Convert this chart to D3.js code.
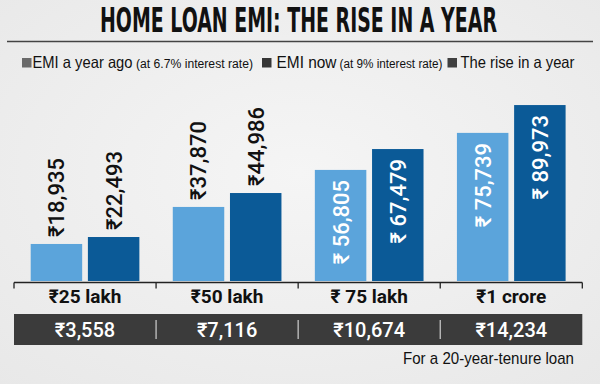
<!DOCTYPE html>
<html>
<head>
<meta charset="utf-8">
<script src="https://cdn.jsdelivr.net/npm/d3@7"></script>
<style>
html,body{margin:0;padding:0;background:#eeeeee;}
svg{display:block;}
</style>
</head>
<body>
<svg id="chart" width="600" height="384"></svg>
<script>
const categories = ["₹25 lakh", "₹50 lakh", "₹ 75 lakh", "₹1 crore"];
const emiYearAgo = [18935, 37870, 56805, 75739];
const emiNow = [22493, 44986, 67479, 89973];
const riseInYear = [3558, 7116, 10674, 14234];
const seriesKeys = ["ago", "now"];
const legendLabels = ["EMI a year ago", "EMI now", "The rise in a year"];
const legendNotes = ["(at 6.7% interest rate)", "(at 9% interest rate)", ""];
const titleText = "HOME LOAN EMI: THE RISE IN A YEAR";
const footnote = "For a 20-year-tenure loan";

const colors = {ago: "#5ba4db", now: "#0b5a97"};
const legendColors = ["#6a6a6a", "#363636", "#404040"];

const svg = d3.select("#chart");
const W = 600, H = 384;

// background
const defs = svg.append("defs");
const rg = defs.append("radialGradient").attr("id", "bg").attr("cx", "50%").attr("cy", "45%").attr("r", "75%");
rg.append("stop").attr("offset", "0%").attr("stop-color", "#f5f5f5");
rg.append("stop").attr("offset", "100%").attr("stop-color", "#e8e8e8");
svg.append("rect").attr("width", W).attr("height", H).attr("fill", "url(#bg)");

// title (horizontally condensed via smaller size + vertical stretch)
svg.append("text").attr("transform", "translate(298.5,32) scale(1,1.36)")
  .attr("text-anchor", "middle")
  .attr("textLength", 397).attr("lengthAdjust", "spacingAndGlyphs")
  .style("font-family", "'Liberation Sans Narrow', 'DejaVu Sans Condensed', sans-serif")
  .style("font-weight", "bold").style("font-size", "24.5px").attr("fill", "#111")
  .text(titleText);
svg.append("line").attr("x1", 7).attr("x2", 593).attr("y1", 41.5).attr("y2", 41.5)
  .attr("stroke", "#444").attr("stroke-width", 1.5);

// legend
const legendPos = [
  {sq: 22, t: 32.5, tw: 100, nx: 136, nw: 117},
  {sq: 262, t: 276.5, tw: 60, nx: 339.5, nw: 103},
  {sq: 447.5, t: 460.5, tw: 114, nx: 0, nw: 0}
];
legendLabels.forEach((lab, i) => {
  const p = legendPos[i];
  svg.append("rect").attr("x", p.sq).attr("y", 58).attr("width", 9.5).attr("height", 9.5).attr("fill", legendColors[i]);
  svg.append("text").attr("x", p.t).attr("y", 67.5)
    .attr("textLength", p.tw).attr("lengthAdjust", "spacingAndGlyphs")
    .style("font-family", "'Liberation Sans Narrow', sans-serif").style("font-size", "16.5px")
    .attr("fill", "#111").text(lab);
  if (legendNotes[i]) {
    svg.append("text").attr("x", p.nx).attr("y", 67.5)
      .attr("textLength", p.nw).attr("lengthAdjust", "spacingAndGlyphs")
      .style("font-family", "'Liberation Sans Narrow', sans-serif").style("font-size", "12px")
      .attr("fill", "#111").text(legendNotes[i]);
  }
});

// scales
const x = d3.scaleBand().domain(categories).range([14, 582.3]).paddingInner(0).paddingOuter(0);
const xs = d3.scaleBand().domain(seriesKeys).range([0, x.bandwidth()]).paddingInner(0.1).paddingOuter(0.292);
const y = d3.scaleLinear().domain([0, 90000]).range([281, 105]);

const data = categories.map((c, i) => ({cat: c, ago: emiYearAgo[i], now: emiNow[i], rise: riseInYear[i]}));
const fmt = d3.format(",");

const groups = svg.append("g").selectAll("g").data(data).join("g")
  .attr("transform", d => `translate(${x(d.cat)},0)`);

groups.selectAll("rect").data(d => seriesKeys.map(k => ({key: k, value: d[k]}))).join("rect")
  .attr("x", d => xs(d.key)).attr("width", xs.bandwidth())
  .attr("y", d => y(d.value)).attr("height", d => y(0) - y(d.value))
  .attr("fill", d => colors[d.key]);

groups.selectAll("text.val").data(d => seriesKeys.map(k => ({key: k, value: d[k]}))).join("text")
  .attr("class", "val")
  .each(function(d) {
    const inside = (y(0) - y(d.value)) > 100;
    const cx = xs(d.key) + xs.bandwidth() / 2;
    const yy = inside ? y(d.value) + 10 : y(d.value) - 7;
    d3.select(this)
      .attr("transform", `translate(${cx},${yy}) rotate(-90)`)
      .attr("text-anchor", inside ? "end" : "start")
      .attr("dy", "0.36em")
      .attr("fill", inside ? "#ffffff" : "#111")
      .text("₹" + (inside ? " " : "") + fmt(d.value));
  })
  .style("font-family", "Roboto, 'Noto Sans', sans-serif").style("font-size", "22px").style("font-weight", "500");

// bracket axis
const x0 = x.range()[0], x1 = x.range()[1];
const axisY = 282.5;
const bracket = d3.path();
bracket.moveTo(x0, axisY); bracket.lineTo(x1, axisY);
x.domain().forEach(c => { bracket.moveTo(x(c), axisY); bracket.lineTo(x(c), axisY + 6); });
bracket.moveTo(x1, axisY); bracket.lineTo(x1, axisY + 6);
svg.append("path").attr("d", bracket.toString()).attr("stroke", "#222").attr("stroke-width", 1.3).attr("fill", "none");

// category labels
svg.append("g").selectAll("text").data(data).join("text")
  .attr("x", d => x(d.cat) + x.bandwidth() / 2).attr("y", 302.5)
  .attr("text-anchor", "middle")
  .style("font-family", "'Liberation Sans Narrow', Roboto, sans-serif").style("font-size", "19px").style("font-weight", "bold")
  .attr("fill", "#111").text(d => d.cat);

// rise band
svg.append("rect").attr("x", x0).attr("y", 314).attr("width", x1 - x0).attr("height", 31).attr("fill", "#3b3b3b");
svg.append("g").selectAll("line").data(categories.slice(1)).join("line")
  .attr("x1", d => x(d)).attr("x2", d => x(d)).attr("y1", 320).attr("y2", 339)
  .attr("stroke", "#cfcfcf").attr("stroke-width", 1.2);
svg.append("g").selectAll("text").data(data).join("text")
  .attr("x", d => x(d.cat) + x.bandwidth() / 2).attr("y", 336.5)
  .attr("text-anchor", "middle")
  .style("font-family", "Roboto, 'Noto Sans', sans-serif").style("font-size", "20px").style("font-weight", "500")
  .attr("fill", "#ffffff").text(d => "₹" + fmt(d.rise));

// footnote
svg.append("text").attr("x", 574).attr("y", 364).attr("text-anchor", "end")
  .attr("textLength", 171).attr("lengthAdjust", "spacingAndGlyphs")
  .style("font-family", "'Liberation Sans Narrow', sans-serif").style("font-size", "17px")
  .attr("fill", "#111").text(footnote);
</script>
</body>
</html>
